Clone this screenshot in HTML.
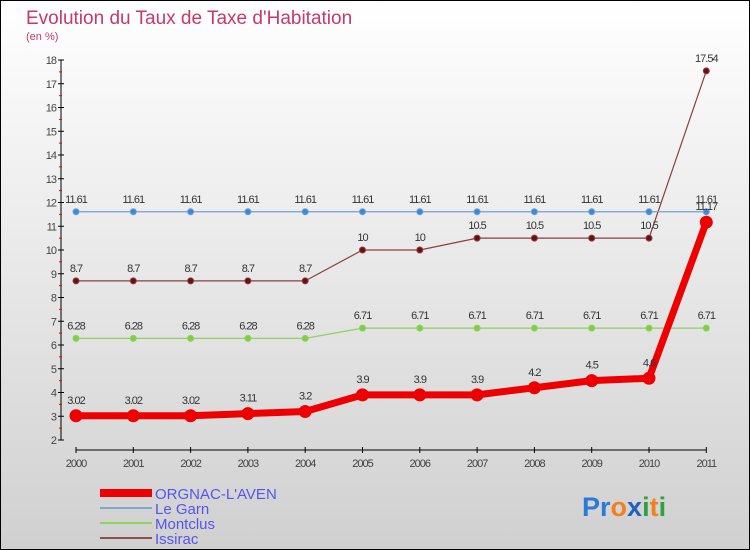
<!DOCTYPE html>
<html><head><meta charset="utf-8"><style>
body{margin:0}
#c{width:750px;height:550px;position:relative;box-sizing:border-box;border:1px solid #000;background:linear-gradient(#ffffff,#d0d0d0);font-family:"Liberation Sans",sans-serif;overflow:hidden}
</style></head><body>
<div id="c">
<svg id="s" width="750" height="550" style="position:absolute;left:-1px;top:-1px">
<text x="26" y="24" font-size="19" fill="#c8386a">Evolution du Taux de Taxe d'Habitation</text>
<text x="26" y="40" font-size="11" fill="#c8386a">(en %)</text>
<g id="axes"></g><g id="series"></g>
<g>
<rect x="100" y="489" width="52" height="8" fill="#e00"/>
<text x="155" y="499" font-size="15" fill="#5555ee">ORGNAC-L'AVEN</text>
<line x1="100" y1="508" x2="152" y2="508" stroke="#7fa8d0" stroke-width="2"/>
<text x="155" y="514" font-size="15" fill="#5555ee">Le Garn</text>
<line x1="100" y1="523" x2="152" y2="523" stroke="#8fd060" stroke-width="2"/>
<text x="155" y="529" font-size="15" fill="#5555ee">Montclus</text>
<line x1="100" y1="538" x2="152" y2="538" stroke="#8a5050" stroke-width="2"/>
<text x="155" y="544" font-size="15" fill="#5555ee">Issirac</text>
</g>
<g font-size="27" font-weight="bold">
<text x="582" y="516"><tspan fill="#2a7ad8">Pr</tspan><tspan fill="#f08020">o</tspan><tspan fill="#2060c0">x</tspan><tspan fill="#30a040">i</tspan><tspan fill="#f08020">t</tspan><tspan fill="#30a040">i</tspan></text>
</g>
</svg>
</div>
<script>
const years=[2000,2001,2002,2003,2004,2005,2006,2007,2008,2009,2010,2011];
const orgnac=[3.02,3.02,3.02,3.11,3.2,3.9,3.9,3.9,4.2,4.5,4.6,11.17];
const legarn=[11.61,11.61,11.61,11.61,11.61,11.61,11.61,11.61,11.61,11.61,11.61,11.61];
const montclus=[6.28,6.28,6.28,6.28,6.28,6.71,6.71,6.71,6.71,6.71,6.71,6.71];
const issirac=[8.7,8.7,8.7,8.7,8.7,10,10,10.5,10.5,10.5,10.5,17.54];
const yTicks=[2,3,4,5,6,7,8,9,10,11,12,13,14,15,16,17,18];
const NS="http://www.w3.org/2000/svg";
const X=i=>76+i*57.3;
const Y=v=>440-(v-2)*23.75;
function el(t,a,p){const e=document.createElementNS(NS,t);for(const k in a)e.setAttribute(k,a[k]);p.appendChild(e);return e;}
const ax=document.getElementById('axes'),sr=document.getElementById('series');
let l=el('line',{x1:61,y1:Y(18),x2:61,y2:Y(2),stroke:'#000'},ax);


yTicks.forEach(v=>{
 el('line',{x1:58,y1:Y(v),x2:64,y2:Y(v),stroke:'#000'},ax);
 if(v<18) el('line',{x1:59,y1:Y(v+0.5),x2:62,y2:Y(v+0.5),stroke:'#e00'},ax);
 const t=el('text',{x:56,y:Y(v)+4,'font-size':11,fill:'#444','text-anchor':'end','letter-spacing':'-1'},ax);t.textContent=v;
 
 
});
l=el('line',{x1:X(0),y1:450,x2:X(11),y2:450,stroke:'#000'},ax);


years.forEach((y,i)=>{
 el('line',{x1:X(i),y1:447,x2:X(i),y2:453,stroke:'#000'},ax);
 const t=el('text',{x:X(i),y:467,'font-size':11,fill:'#444','text-anchor':'middle','letter-spacing':'-1'},ax);t.textContent=y;
 
 
});
function series(vals,name,color,w,r,dot){
 const g=el('g',{},sr);
 
 
 el('polyline',{points:vals.map((v,i)=>X(i)+','+Y(v)).join(' '),fill:'none',stroke:color,'stroke-width':w,'stroke-linejoin':'round'},g);
 vals.forEach((v,i)=>{
  const c=el('circle',{cx:X(i),cy:Y(v),r:r,fill:dot,stroke:color,'stroke-width':1},g);
  
  
  const t=el('text',{x:X(i),y:Y(v)-(r+6),'font-size':11,fill:'#333','text-anchor':'middle','letter-spacing':'-1'},g);t.textContent=v;
  
  
 });
}
series(montclus,'montclus','#8fd060',1.2,3,'#7fd040');
series(issirac,'issirac','#8a4040',1.2,3,'#6a1010');
series(legarn,'le-garn','#6fa0d8',1.2,3,'#3a88d8');
series(orgnac,'orgnac','#ee0000',7,6,'#ee0000');
</script>
</body></html>
